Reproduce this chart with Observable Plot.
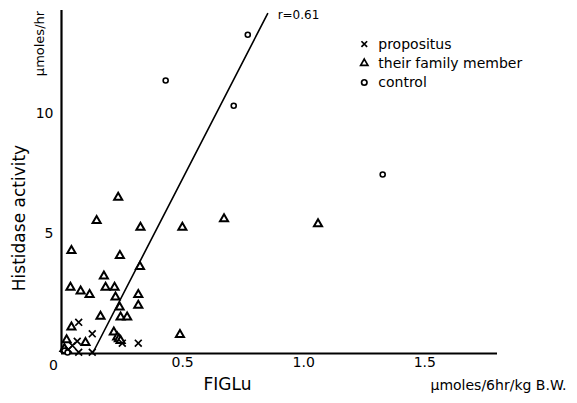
<!DOCTYPE html>
<html>
<head>
<meta charset="utf-8">
<script src="https://cdn.jsdelivr.net/npm/d3@7"></script>
<script src="https://cdn.jsdelivr.net/npm/@observablehq/plot@0.6"></script>
<style>
  html, body { margin: 0; padding: 0; background: #fff; }
  #chart { width: 577px; height: 403px; }
</style>
</head>
<body>
<div id="chart"></div>
<script>
// FIGLu (µmoles/6hr/kg B.W.) vs Histidase activity (µmoles/hr)
const propositusX = [0.071, 0.127, 0.065, 0.251, 0.317, 0.071, 0.127, 0.029, 0.045];
const propositusY = [1.30, 0.82, 0.51, 0.43, 0.43, 0.05, 0.05, 0.17, 0.33];

const familyX = [0.234, 0.145, 0.326, 0.499, 0.671, 1.059, 0.041, 0.241, 0.324, 0.175,
                 0.182, 0.219, 0.037, 0.079, 0.116, 0.223, 0.317, 0.317, 0.240, 0.161,
                 0.244, 0.271, 0.041, 0.216, 0.230, 0.237, 0.244, 0.489, 0.021, 0.099, 0.012];
const familyY = [6.51, 5.54, 5.26, 5.26, 5.61, 5.40, 4.29, 4.08, 3.62, 3.22,
                 2.76, 2.76, 2.76, 2.60, 2.45, 2.35, 2.45, 2.00, 1.93, 1.55,
                 1.51, 1.51, 1.10, 0.89, 0.68, 0.61, 0.54, 0.79, 0.57, 0.45, 0.20];

const controlX = [0.769, 0.711, 0.430, 1.326, 0.012, 0.025];
const controlY = [13.29, 10.33, 11.38, 7.46, 0.12, 0.04];

// regression line end points and label
const fitX = [0.128, 0.851];
const fitY = [0, 14.17];
const fitLabel = "r=0.61";

const xTicks = [0.5, 1.0, 1.5];
const yTicks = [5, 10];

const legendLabels = ["propositus", "their family member", "control"];
const legendSymbols = ["times", "triangle", "circle"];
const legendX = 1.25;
const legendY = [12.9, 12.1, 11.3];

const propositus = propositusX.map((x, i) => ({x, y: propositusY[i]}));
const family = familyX.map((x, i) => ({x, y: familyY[i]}));
const control = controlX.map((x, i) => ({x, y: controlY[i]}));
const fit = fitX.map((x, i) => ({x, y: fitY[i]}));
const legend = legendLabels.map((label, i) => ({label, symbol: legendSymbols[i], x: legendX, y: legendY[i]}));

const font = "'DejaVu Sans', 'Liberation Sans', sans-serif";

const chart = Plot.plot({
  width: 577,
  height: 403,
  marginLeft: 61,
  marginRight: 80,
  marginTop: 10,
  marginBottom: 50,
  style: {fontFamily: font, color: "#000", background: "#fff", overflow: "visible"},
  x: {domain: [0, 1.8]},
  y: {domain: [0, 14.3]},
  symbol: {type: "identity"},
  marks: [
    Plot.ruleX([0], {stroke: "#000", strokeWidth: 2.2}),
    Plot.ruleY([0], {stroke: "#000", strokeWidth: 2.2}),
    Plot.axisX({ticks: xTicks, tickSize: 0, tickPadding: 4, tickFormat: d => d.toFixed(1), fontSize: 14, label: null}),
    Plot.axisY({ticks: yTicks, tickSize: 0, tickPadding: 8, fontSize: 14, label: null}),
    Plot.text(["0"], {frameAnchor: "bottom-left", text: d => d, textAnchor: "middle", lineAnchor: "middle", dx: -8, dy: 12, fontSize: 14}),
    Plot.line(fit, {x: "x", y: "y", stroke: "#000", strokeWidth: 1.6}),
    Plot.text([fit[1]], {x: "x", y: "y", text: () => fitLabel, dx: 10, dy: 2, textAnchor: "start", fontSize: 12}),
    Plot.dot(family, {x: "x", y: "y", symbol: "triangle", r: 3.0, stroke: "#000", strokeWidth: 2, fill: "#fff"}),
    Plot.dot(propositus, {x: "x", y: "y", symbol: "times", r: 3.2, stroke: "#000", strokeWidth: 1.7}),
    Plot.dot(control, {x: "x", y: "y", symbol: "circle", r: 2.5, stroke: "#000", strokeWidth: 1.6, fill: "#fff"}),
    Plot.dot(legend, {x: "x", y: "y", symbol: "symbol", r: 2.7, stroke: "#000", strokeWidth: 1.7, fill: "#fff"}),
    Plot.text(legend, {x: "x", y: "y", text: "label", dx: 14, textAnchor: "start", fontSize: 14}),
    Plot.text(["Histidase activity"], {frameAnchor: "left", text: d => d, textAnchor: "middle", lineAnchor: "middle", rotate: -90, dx: -42, dy: 36, fontSize: 17}),
    Plot.text(["μmoles/hr"], {frameAnchor: "top-left", text: d => d, textAnchor: "middle", lineAnchor: "middle", rotate: -90, dx: -22, dy: 33, fontSize: 13}),
    Plot.text(["FIGLu"], {frameAnchor: "bottom-left", text: d => d, textAnchor: "start", lineAnchor: "middle", dx: 142, dy: 31, fontSize: 17}),
    Plot.text(["μmoles/6hr/kg B.W."], {frameAnchor: "bottom-right", text: d => d, textAnchor: "start", lineAnchor: "middle", dx: -67, dy: 32, fontSize: 14})
  ]
});

document.getElementById("chart").appendChild(chart);
</script>
</body>
</html>
